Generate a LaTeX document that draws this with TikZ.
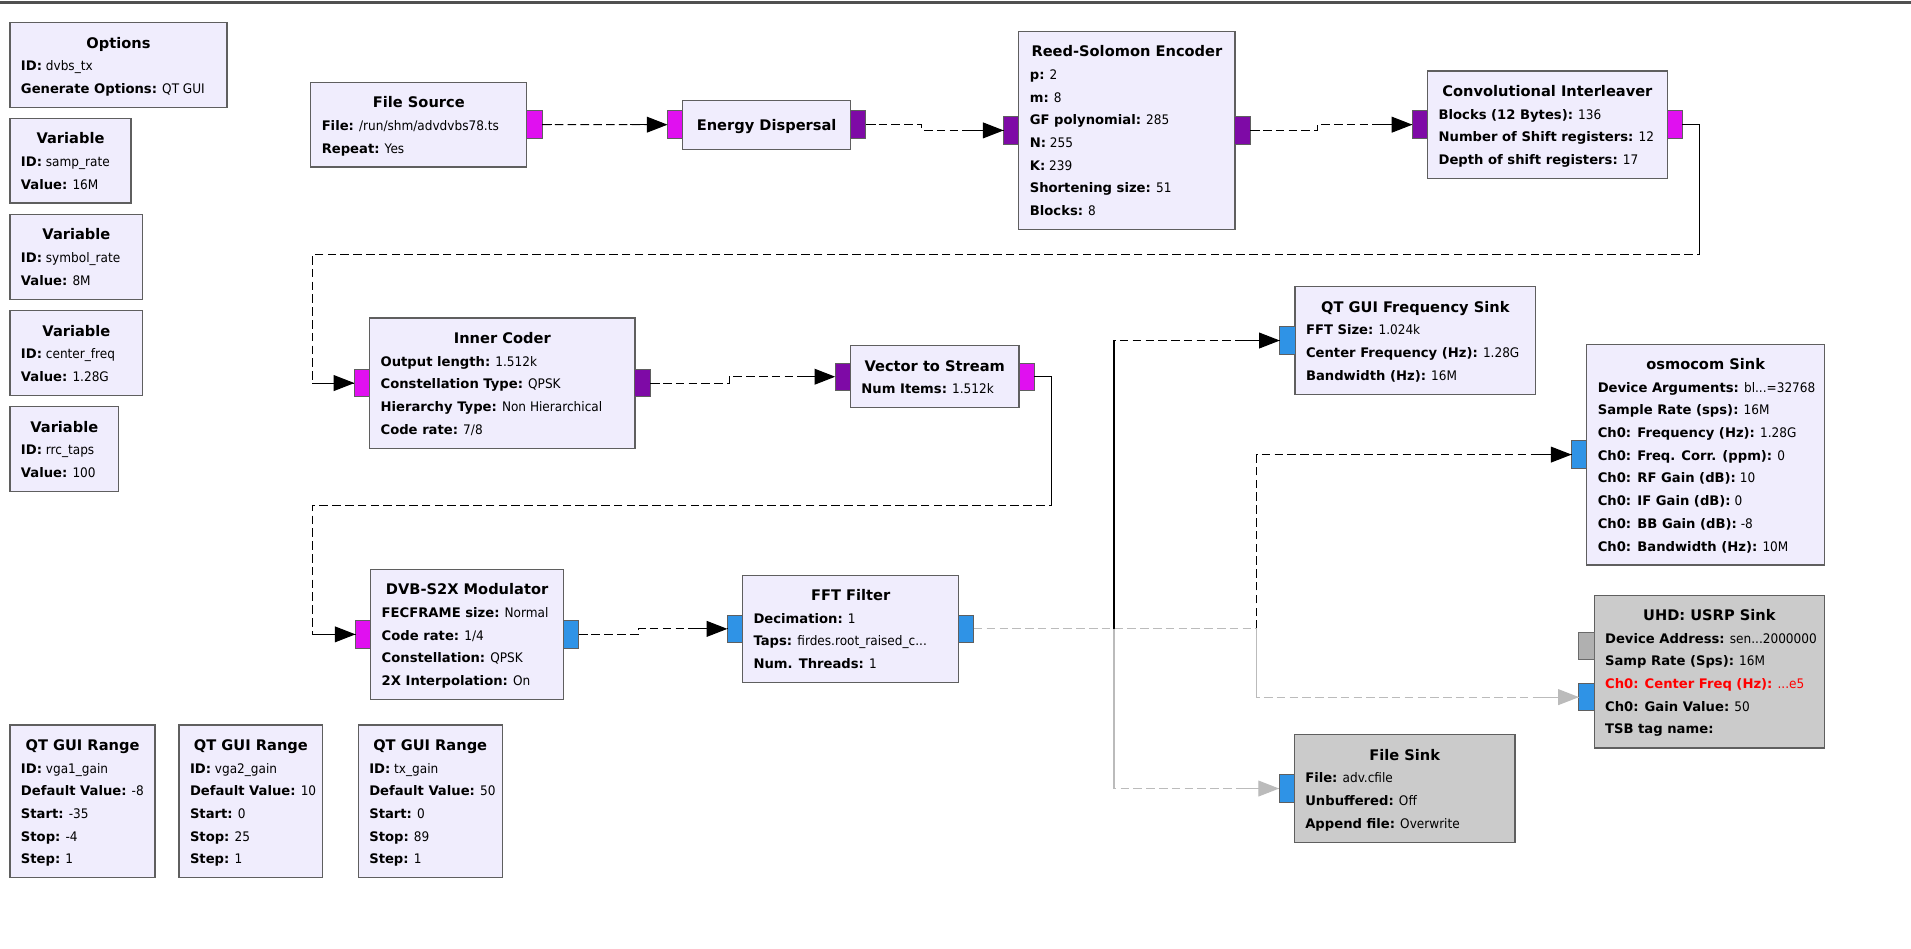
\documentclass[tikz,border=0pt]{standalone}
\usepackage{fontspec}
\setmainfont{DejaVu Sans}[UprightFeatures={FakeStretch=0.92}]
\usetikzlibrary{arrows.meta,calc}

\definecolor{blkfill}{HTML}{F0EDFD}
\definecolor{blkedge}{HTML}{5F5F5F}
\definecolor{disfill}{HTML}{CBCBCB}
\definecolor{pmag}{HTML}{E010F0}
\definecolor{ppur}{HTML}{7E0AA6}
\definecolor{pblue}{HTML}{2F93E6}
\definecolor{pgray}{HTML}{B0B0B0}
\definecolor{wiregray}{HTML}{BBBBBB}
\definecolor{topline}{HTML}{505050}

\tikzset{
 blk/.style={draw=blkedge, fill=blkfill, line width=1pt, inner sep=0pt, outer sep=0pt, rectangle},
 dis/.style={blk, fill=disfill},
 port/.style={draw=blkedge, line width=0.8pt, minimum width=12.5pt, minimum height=22.5pt, inner sep=0pt, outer sep=0pt, rectangle},
 ttl/.style={font=\fontsize{12}{14}\selectfont\bfseries, inner sep=0pt, anchor=base},
 txt/.style={font=\fontsize{10.8}{13}\selectfont, inner sep=0pt, anchor=base west},
 wire/.style={line width=0.9pt, black},
 dwire/.style={wire, dash pattern=on 7pt off 3.5pt},
 tip/.style={-{Triangle[length=17pt,width=13pt]}},
 gwire/.style={line width=0.9pt, wiregray},
 gdwire/.style={gwire, dash pattern=on 7pt off 3.5pt},
}

\newcommand\kv[2]{\textbf{#1:} #2}
% #1 name, #2 x1, #3 top, #4 x2, #5 lines, #6 style, #7 title, #8 lines
\newcommand\mkblock[8]{%
 \node[#6, anchor=north west, minimum width={#4-#2}, minimum height={51+(#5-1)*18.6}] (#1) at (#2,#3) {};
 \node[ttl] (#1-t) at ({(#2+#4)/2},{#3+16.5+4.4}) {#7};
 \foreach \lntext [count=\lnidx] in {#8} {\node[txt] (#1-\lnidx) at ({#2+8.8},{#3+35.5+(\lnidx-1)*18.6+4}) {\lntext};}
}

\begin{document}
\begin{tikzpicture}[x=1pt,y=-1pt]
\useasboundingbox (0,0) rectangle (1568,778.6);
\fill[white] (0,0) rectangle (1568,778.6);
\draw[topline, line width=2pt] (0,2) -- (1568,2);

% ---------- blocks ----------
\mkblock{opt}{8.2}{18.6}{186.3}{2}{blk}{Options}{\kv{ID}{dvbs\_tx},\kv{Generate Options}{QT GUI}}
\mkblock{va}{8.2}{97}{107.5}{2}{blk}{Variable}{\kv{ID}{samp\_rate},\kv{Value}{16M}}
\mkblock{vb}{8.2}{175.9}{117.2}{2}{blk}{Variable}{\kv{ID}{symbol\_rate},\kv{Value}{8M}}
\mkblock{vc}{8.2}{254.9}{117.2}{2}{blk}{Variable}{\kv{ID}{center\_freq},\kv{Value}{1.28G}}
\mkblock{vd}{8.2}{333.7}{97.3}{2}{blk}{Variable}{\kv{ID}{rrc\_taps},\kv{Value}{100}}

\mkblock{fs}{255}{67.5}{432.3}{2}{blk}{File Source}{\kv{File}{/run/shm/advdvbs78.ts},\kv{Repeat}{Yes}}
\node[blk, anchor=north west, minimum width=137.7, minimum height=40.2] (ed) at (560.2,82.2) {};
\node[ttl] (ed-t) at (629.05,106.7) {Energy Dispersal};
\mkblock{rs}{836}{25.7}{1013.3}{7}{blk}{Reed-Solomon Encoder}{\kv{p}{2},\kv{m}{8},\kv{GF polynomial}{285},\kv{N}{255},\kv{K}{239},\kv{Shortening size}{51},\kv{Blocks}{8}}
\mkblock{ci}{1171.4}{58.2}{1367.9}{3}{blk}{Convolutional Interleaver}{\kv{Blocks (12 Bytes)}{136},\kv{Number of Shift registers}{12},\kv{Depth of shift registers}{17}}

\mkblock{ic}{303.3}{260.9}{521}{4}{blk}{Inner Coder}{\kv{Output length}{1.512k},\kv{Constellation Type}{QPSK},\kv{Hierarchy Type}{Non Hierarchical},\kv{Code rate}{7/8}}
\mkblock{vs}{697.8}{283.6}{836.1}{1}{blk}{Vector to Stream}{\kv{Num Items}{1.512k}}
\mkblock{qs}{1062.6}{235.3}{1260}{3}{blk}{QT GUI Frequency Sink}{\kv{FFT Size}{1.024k},\kv{Center Frequency (Hz)}{1.28G},\kv{Bandwidth (Hz)}{16M}}
\mkblock{os}{1302}{282.4}{1497}{8}{blk}{osmocom Sink}{\kv{Device Arguments}{bl...=32768},\kv{Sample Rate (sps)}{16M},\kv{Ch0: Frequency (Hz)}{1.28G},\kv{Ch0: Freq. Corr. (ppm)}{0},\kv{Ch0: RF Gain (dB)}{10},\kv{Ch0: IF Gain (dB)}{0},\kv{Ch0: BB Gain (dB)}{-8},\kv{Ch0: Bandwidth (Hz)}{10M}}

\mkblock{dv}{304.2}{467.1}{462.3}{4}{blk}{DVB-S2X Modulator}{\kv{FECFRAME size}{Normal},\kv{Code rate}{1/4},\kv{Constellation}{QPSK},\kv{2X Interpolation}{On}}
\mkblock{ff}{609.3}{471.9}{786.6}{3}{blk}{FFT Filter}{\kv{Decimation}{1},\kv{Taps}{firdes.root\_raised\_c...},\kv{Num. Threads}{1}}
\mkblock{us}{1308}{488.3}{1497}{5}{dis}{UHD: USRP Sink}{\kv{Device Address}{sen...2000000},\kv{Samp Rate (Sps)}{16M},{\color{red}\kv{Ch0: Center Freq (Hz)}{...e5}},\kv{Ch0: Gain Value}{50},\kv{TSB tag name}{}}
\mkblock{fk}{1062}{602.9}{1243}{3}{dis}{File Sink}{\kv{File}{adv.cfile},\kv{Unbuffered}{Off},\kv{Append file}{Overwrite}}

\mkblock{ra}{8.2}{594.9}{127.2}{5}{blk}{QT GUI Range}{\kv{ID}{vga1\_gain},\kv{Default Value}{-8},\kv{Start}{-35},\kv{Stop}{-4},\kv{Step}{1}}
\mkblock{rb}{146.9}{594.9}{264.8}{5}{blk}{QT GUI Range}{\kv{ID}{vga2\_gain},\kv{Default Value}{10},\kv{Start}{0},\kv{Stop}{25},\kv{Step}{1}}
\mkblock{rc}{294}{594.9}{412}{5}{blk}{QT GUI Range}{\kv{ID}{tx\_gain},\kv{Default Value}{50},\kv{Start}{0},\kv{Stop}{89},\kv{Step}{1}}

% ---------- ports ----------
\node[port, fill=pmag, anchor=west] (fs-o) at (fs.east) {};
\node[port, fill=pmag, anchor=east] (ed-i) at (ed.west) {};
\node[port, fill=ppur, anchor=west] (ed-o) at (ed.east) {};
\node[port, fill=ppur, anchor=east] (rs-i) at (rs.west) {};
\node[port, fill=ppur, anchor=west] (rs-o) at (rs.east) {};
\node[port, fill=ppur, anchor=east] (ci-i) at (ci.west) {};
\node[port, fill=pmag, anchor=west] (ci-o) at (ci.east) {};
\node[port, fill=pmag, anchor=east] (ic-i) at (ic.west) {};
\node[port, fill=ppur, anchor=west] (ic-o) at (ic.east) {};
\node[port, fill=ppur, anchor=east] (vs-i) at (vs.west) {};
\node[port, fill=pmag, anchor=west] (vs-o) at (vs.east) {};
\node[port, fill=pmag, anchor=east] (dv-i) at (dv.west) {};
\node[port, fill=pblue, anchor=west] (dv-o) at (dv.east) {};
\node[port, fill=pblue, anchor=east] (ff-i) at (ff.west) {};
\node[port, fill=pblue, anchor=west] (ff-o) at (ff.east) {};
\node[port, fill=pblue, anchor=east] (qs-i) at (qs.west) {};
\node[port, fill=pblue, anchor=east] (os-i) at (os.west) {};
\node[port, fill=pgray, draw=pgray!60!black, anchor=east] (us-c) at ($(us.west)+(0,-21)$) {};
\node[port, fill=pblue, anchor=east] (us-i) at ($(us.west)+(0,21)$) {};
\node[port, fill=pblue, anchor=east] (fk-i) at (fk.west) {};

% ---------- corner coordinates ----------
\coordinate (d1) at (1394.5,208.5);
\coordinate (d2) at (256.4,208.5);
\coordinate (f1) at (863,414.8);
\coordinate (f2) at (256.4,414.8);
\coordinate (h1) at (914,516);
\coordinate (i1) at (1031.3,516);

% ---------- black connections ----------
\draw[dwire] (fs-o.east) -- (ed-i.west);
\draw[wire] (fs-o.east) -- ++(8,0);
\draw[wire,tip] ($(ed-i.west)+(-31,0)$) -- (ed-i.west);
\draw[dwire] (ed-o.east) -- ++(46,0) |- (rs-i.west);
\draw[wire] (ed-o.east) -- ++(8,0);
\draw[wire,tip] ($(rs-i.west)+(-31,0)$) -- (rs-i.west);
\draw[dwire] (rs-o.east) -- ++(55,0) |- (ci-i.west);
\draw[wire] (rs-o.east) -- ++(8,0);
\draw[wire,tip] ($(ci-i.west)+(-31,0)$) -- (ci-i.west);
\draw[dwire] (ci-o.east) -| (d1) -- (d2) |- (ic-i.west);
\draw[wire] (ci-o.east) -| (d1);
\draw[wire,tip] (d2 |- ic-i.west) -- (ic-i.west);
\draw[dwire] (ic-o.east) -- ++(64.7,0) |- (vs-i.west);
\draw[wire] (ic-o.east) -- ++(8,0);
\draw[wire,tip] ($(vs-i.west)+(-31,0)$) -- (vs-i.west);
\draw[dwire] (vs-o.east) -| (f1) -- (f2) |- (dv-i.west);
\draw[wire] (vs-o.east) -| (f1);
\draw[wire,tip] (f2 |- dv-i.west) -- (dv-i.west);
\draw[dwire] (dv-o.east) -- ++(49,0) |- (ff-i.west);
\draw[wire] (dv-o.east) -- ++(8,0);
\draw[wire,tip] ($(ff-i.west)+(-31,0)$) -- (ff-i.west);
\draw[dwire] (h1) |- (qs-i.west);
\draw[wire] (h1) -- (h1 |- qs-i.west);
\draw[wire,tip] ($(qs-i.west)+(-31,0)$) -- (qs-i.west);
\draw[dwire] (i1) |- (os-i.west);
\draw[wire,tip] ($(os-i.west)+(-31,0)$) -- (os-i.west);

% ---------- grey (disabled) connections ----------
\draw[gdwire] (ff-o.east) -- (i1) |- (us-i.west);
\draw[gwire] (i1) -- (i1 |- us-i.west);
\draw[gwire,tip] ($(us-i.west)+(-31,0)$) -- (us-i.west);
\draw[gdwire] (h1) |- (fk-i.west);
\draw[gwire] (h1) -- (h1 |- fk-i.west);
\draw[gwire,tip] ($(fk-i.west)+(-31,0)$) -- (fk-i.west);
\end{tikzpicture}
\end{document}
